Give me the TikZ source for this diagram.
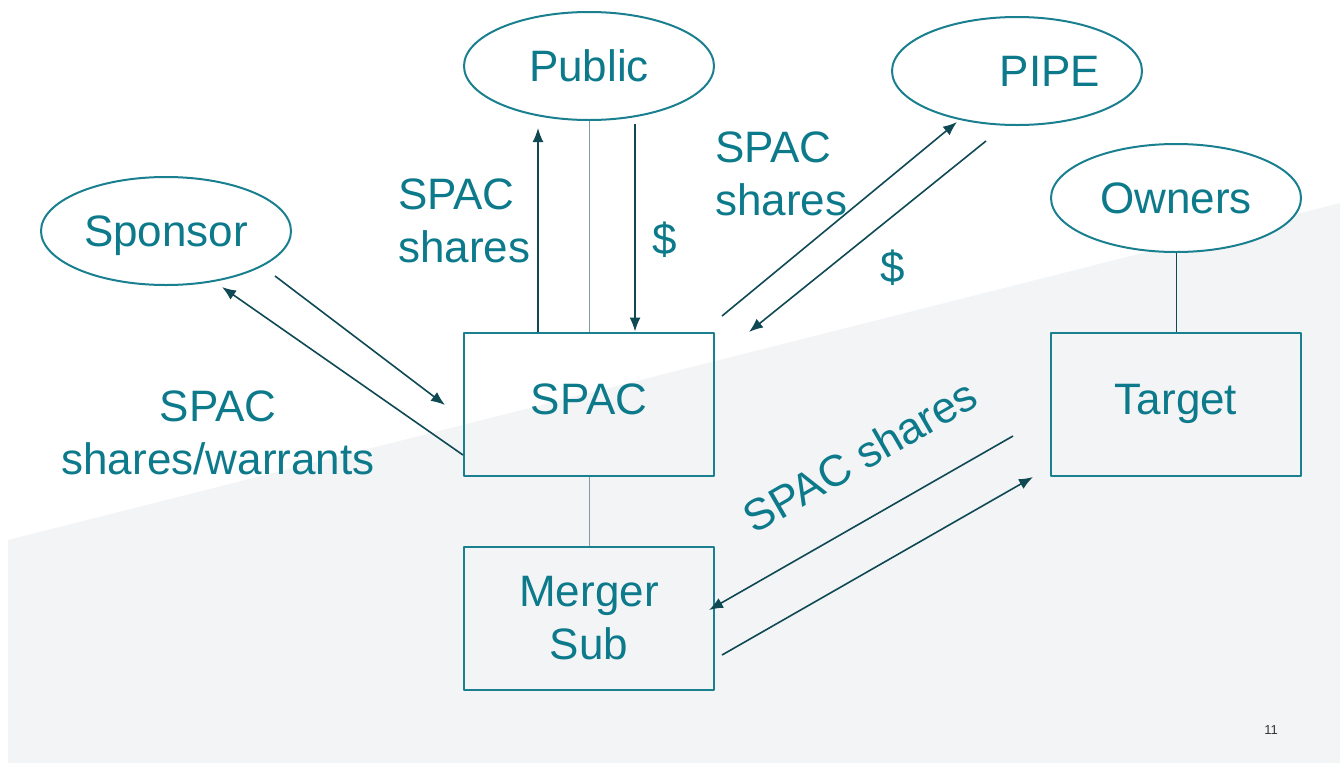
\documentclass[tikz,border=0pt]{standalone}
\usepackage{fontspec}
\setmainfont{Liberation Sans}
\usetikzlibrary{shapes.geometric,arrows.meta}
\definecolor{txt}{HTML}{0C7A8B}
\definecolor{edge}{HTML}{1A808F}
\definecolor{flow}{HTML}{0E4954}
\definecolor{link}{HTML}{7F9BA3}
\definecolor{bgray}{HTML}{F3F4F6}
\begin{document}
\begin{tikzpicture}[x=1pt, y=-1pt, font=\fontsize{44}{53}\selectfont, line join=round, >={Latex[length=14pt,width=11pt]},
	party/.style={ellipse, draw=edge, line width=2pt, fill=white, minimum width=250pt, minimum height=108pt, inner sep=0pt, text=txt, text depth=0pt},
	entity/.style={rectangle, draw=edge, line width=2pt, minimum width=250pt, minimum height=143pt, inner sep=0pt, text=txt, align=center},
	oneline/.style={text height=32pt, text depth=11pt},
	flowline/.style={draw=flow, line width=1.6pt, ->},
	lbl/.style={text=txt, inner sep=0pt}]
	\useasboundingbox (0,0) rectangle (1340,763);
	\fill[bgray] (8,540)--(1340,203)--(1340,763)--(8,763)--cycle;
	% parties
	\node[party] (public) at (589,66) {Public};
	\node[party] (pipe) at (1017,71) {\hspace{66pt}PIPE};
	\node[party] (sponsor) at (166,231) {Sponsor};
	\node[party] (owners) at (1176,198) {Owners};
	% entities
	\node[entity, oneline] (spac) at (589,404) {SPAC};
	\node[entity] (merger) at (589,618) {Merger\\Sub};
	\node[entity, oneline] (target) at (1176,404) {Target};
	% plain links
	\draw[link, line width=1pt] (public) -- (spac);
	\draw[link, line width=1pt] (spac) -- (merger);
	\draw[flow, line width=1pt] (owners) -- (target);
	% free ends of the flows
	\coordinate (pubup) at (538,128);
	\coordinate (pubdn) at (635,124);
	\coordinate (spA) at (275,276);
	\coordinate (spB) at (445,405);
	\coordinate (spC) at (463,455);
	\coordinate (spD) at (222,287);
	\coordinate (piA) at (722,316);
	\coordinate (piB) at (957,122);
	\coordinate (piC) at (986,141);
	\coordinate (piD) at (749,332);
	\coordinate (tgA) at (1013,436);
	\coordinate (tgB) at (709,610);
	\coordinate (tgC) at (722,655);
	\coordinate (tgD) at (1033,477);
	% flows
	\draw[flowline] (spac.north -| pubup) -- (pubup);
	\draw[flowline] (pubdn) -- (spac.north -| pubdn);
	\draw[flowline] (spA) -- (spB);
	\draw[flowline] (spC) -- (spD);
	\draw[flowline] (piA) -- (piB);
	\draw[flowline] (piC) -- (piD);
	\draw[flowline] (tgA) -- (tgB);
	\draw[flowline] (tgC) -- (tgD);
	% labels
	\node[lbl, align=left, anchor=west] (pubshares) at (398,221) {SPAC\\shares};
	\node[lbl] (pubcash) at (665,240) {\$};
	\node[lbl, align=left, anchor=west] (pipeshares) at (715,174) {SPAC\\shares};
	\node[lbl] (pipecash) at (893,268) {\$};
	\node[lbl, align=center] (spshares) at (218,433) {SPAC\\shares/warrants};
	\node[lbl, rotate=30] (tgshares) at (860,456) {SPAC shares};
	\node[text=black!80, font=\fontsize{13}{15}\selectfont] (page) at (1271,730) {11};
\end{tikzpicture}
\end{document}
